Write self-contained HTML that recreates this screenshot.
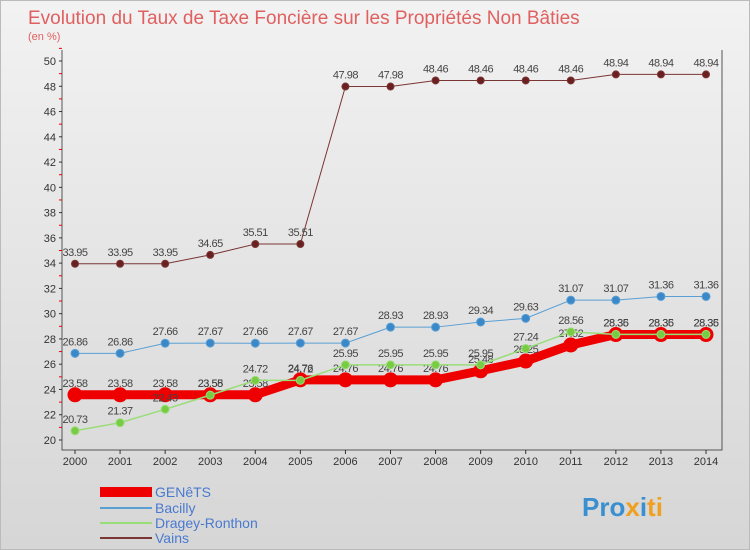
<!DOCTYPE html>
<html><head><meta charset="utf-8"><style>
body{margin:0;width:750px;height:550px;overflow:hidden;font-family:"Liberation Sans",sans-serif;}
#c{position:absolute;left:0;top:0;width:748px;height:548px;border:1px solid #bbb;background:linear-gradient(#f2f2f2,#d6d6d6);}
</style></head><body>
<div id="c"></div>
<svg id="s" width="750" height="550" style="position:absolute;left:0;top:0">
<text x="28" y="24" font-size="19" fill="#e06060">Evolution du Taux de Taxe Foncière sur les Propriétés Non Bâties</text>
<text x="28" y="40" font-size="11" fill="#e06060">(en %)</text>
<g id="axes"></g><g id="series"></g>
<g>
<rect x="100" y="487" width="52" height="10" fill="#e00"/>
<text x="155" y="497" font-size="14" fill="#4a7ad0">GENêTS</text>
<line x1="100" y1="508" x2="152" y2="508" stroke="#5a9fd4" stroke-width="2"/>
<text x="155" y="513" font-size="14" fill="#4a7ad0">Bacilly</text>
<line x1="100" y1="523" x2="152" y2="523" stroke="#99dd77" stroke-width="2"/>
<text x="155" y="528" font-size="14" fill="#4a7ad0">Dragey-Ronthon</text>
<line x1="100" y1="538" x2="152" y2="538" stroke="#7a3535" stroke-width="2"/>
<text x="155" y="543" font-size="14" fill="#4a7ad0">Vains</text>
</g>
<text x="582" y="516" font-size="26" font-weight="bold" fill="#3a8fd0">Pro<tspan fill="#f0a020">x</tspan>i<tspan fill="#f0a020">ti</tspan></text>
</svg>
<script>
const years=[2000,2001,2002,2003,2004,2005,2006,2007,2008,2009,2010,2011,2012,2013,2014];
const yTicks=[20,22,24,26,28,30,32,34,36,38,40,42,44,46,48,50];
const genets=[23.58,23.58,23.58,23.58,23.58,24.76,24.76,24.76,24.76,25.48,26.25,27.52,28.35,28.35,28.35];
const bacilly=[26.86,26.86,27.66,27.67,27.66,27.67,27.67,28.93,28.93,29.34,29.63,31.07,31.07,31.36,31.36];
const dragey=[20.73,21.37,22.43,23.55,24.72,24.72,25.95,25.95,25.95,25.95,27.24,28.56,28.36,28.36,28.36];
const vains=[33.95,33.95,33.95,34.65,35.51,35.51,47.98,47.98,48.46,48.46,48.46,48.46,48.94,48.94,48.94];
const NS='http://www.w3.org/2000/svg';
const X=i=>75+i*(706-75)/(years.length-1);
const Y=v=>440-(v-20)*(440-61)/30;
function mk(t,a,p){const e=document.createElementNS(NS,t);for(const k in a)e.setAttribute(k,a[k]);p.appendChild(e);return e;}
const ax=document.getElementById('axes');
const frame=mk('path',{d:'M62,50 V450 H722 V50',fill:'none',stroke:'#555','stroke-width':1},ax);


yTicks.forEach(v=>{
 const t=mk('text',{x:56,y:Y(v)+4,'font-size':11,'text-anchor':'end',fill:'#333'},ax);t.textContent=v;
 
 
 mk('line',{x1:59,x2:62,y1:Y(v),y2:Y(v),stroke:'#333'},ax);
 mk('line',{x1:59,x2:62,y1:Y(v+1),y2:Y(v+1),stroke:'#e00'},ax);
});
years.forEach((yr,i)=>{
 const t=mk('text',{x:X(i),y:465,'font-size':11,'text-anchor':'middle',fill:'#333'},ax);t.textContent=yr;
 
 
 mk('line',{x1:X(i),x2:X(i),y1:450,y2:454,stroke:'#333'},ax);
});
const sg=document.getElementById('series');
function series(name,vals,col,w,r,fill,lbl){
 const g=mk('g',{},sg);
 
 
 mk('polyline',{points:vals.map((v,i)=>X(i)+','+Y(v)).join(' '),fill:'none',stroke:col,'stroke-width':w},g);
 vals.forEach((v,i)=>{
  const c=mk('circle',{cx:X(i),cy:Y(v),r:r,fill:fill,stroke:col,'stroke-width':1},g);
  
  
  const t=mk('text',{x:X(i),y:Y(v)-8,'font-size':11,'text-anchor':'middle',fill:'#444','letter-spacing':'-0.5'},g);t.textContent=v.toFixed(2);
  
  
 });
}
series('vains',vains,'#7a3535',1,3.5,'#6a2020');
series('bacilly',bacilly,'#5a9fd4',1,4,'#3a88c8');
series('genets',genets,'#e00',9,7,'#e00');
series('dragey',dragey,'#99dd77',1.5,4,'#77cc44');
</script>
</body></html>
